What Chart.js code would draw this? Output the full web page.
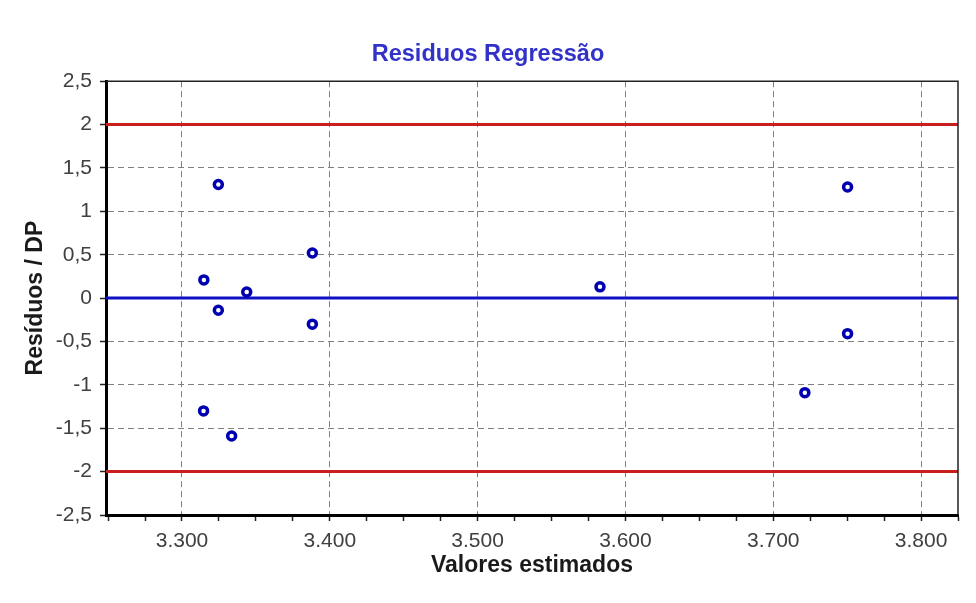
<!DOCTYPE html>
<html>
<head>
<meta charset="utf-8">
<script src="https://cdn.jsdelivr.net/npm/chart.js@4"></script>
<style>
  body { margin: 0; background: #fff; }
  #wrap { width: 976px; height: 603px; }
</style>
</head>
<body>
<div id="wrap"><canvas id="residChart" width="976" height="603"></canvas></div>
<script>
// Residuals vs estimated values
const estimados = [3324.6, 3314.8, 3324.6, 3343.8, 3388.2, 3388.2, 3314.6, 3333.6, 3582.8, 3750.3, 3750.3, 3721.4];
const residuos  = [1.31, 0.21, -0.14, 0.07, 0.52, -0.30, -1.30, -1.59, 0.13, 1.28, -0.41, -1.09];

const xRange = [3248.6, 3825];
const yRange = [-2.5, 2.5];
const limites = [2, -2];   // red lines
const zeroLine = 0;        // blue line

const font = '"Liberation Sans", Arial, sans-serif';

function fmtThousands(v) {
    const s = Math.round(v).toString();
    return s.length > 3 ? s.slice(0, -3) + '.' + s.slice(-3) : s;
}

const hline = (y, color) => ({
    type: 'line',
    data: [{ x: xRange[0], y: y }, { x: xRange[1], y: y }],
    borderColor: color,
    borderWidth: 3,
    pointRadius: 0,
    order: 2
});

// thin frame on top / right of the plot area
const framePlugin = {
    id: 'frame',
    afterDraw(chart) {
        const { ctx, chartArea: a } = chart;
        ctx.save();
        ctx.strokeStyle = '#222';
        ctx.lineWidth = 1.5;
        ctx.beginPath();
        ctx.moveTo(a.left, a.top);
        ctx.lineTo(a.right, a.top);
        ctx.lineTo(a.right, a.bottom);
        ctx.stroke();
        ctx.restore();
    }
};

const ctx = document.getElementById('residChart').getContext('2d');
new Chart(ctx, {
    type: 'scatter',
    data: {
        datasets: [
            hline(limites[0], '#c81e1e'),
            hline(limites[1], '#c81e1e'),
            hline(zeroLine, '#1010c4'),
            {
                type: 'scatter',
                data: estimados.map((x, i) => ({ x: x, y: residuos[i] })),
                pointStyle: 'circle',
                pointRadius: 4,
                pointBorderWidth: 3.5,
                borderColor: '#0000b0',
                backgroundColor: '#ffffff',
                order: 1
            }
        ]
    },
    options: {
        responsive: false,
        animation: false,
        layout: { padding: 0 },
        plugins: {
            legend: { display: false },
            tooltip: { enabled: false },
            title: {
                display: true,
                text: 'Residuos Regressão',
                color: '#3232c8',
                font: { family: font, size: 23.5, weight: 'bold' },
                padding: { top: 40, bottom: 13 }
            }
        },
        scales: {
            x: {
                type: 'linear',
                min: xRange[0],
                max: xRange[1],
                afterBuildTicks: (scale) => {
                    const t = [];
                    for (let v = 3250; v <= 3825; v += 25) t.push({ value: v });
                    scale.ticks = t;
                },
                afterFit: (scale) => { scale.height = 88; },
                ticks: {
                    autoSkip: false,
                    maxRotation: 0,
                    padding: 8,
                    color: '#404040',
                    font: { family: font, size: 21 },
                    callback: (v) => (v % 100 === 0 ? fmtThousands(v) : '')
                },
                grid: {
                    color: (c) => (c.tick && c.tick.value % 100 === 0 ? '#808080' : 'rgba(0,0,0,0)'),
                    lineWidth: 1,
                    tickColor: '#222',
                    tickLength: 6,
                    tickWidth: 1.5,
                    tickBorderDash: []
                },
                border: { display: true, color: '#000', width: 3, dash: [6, 4] },
                title: {
                    display: true,
                    text: 'Valores estimados',
                    color: '#1a1a1a',
                    font: { family: font, size: 23, weight: 'bold' },
                    padding: { top: 0, bottom: 24 }
                }
            },
            y: {
                min: yRange[0],
                max: yRange[1],
                afterFit: (scale) => { scale.width = 106; },
                ticks: {
                    stepSize: 0.5,
                    padding: 8,
                    color: '#404040',
                    font: { family: font, size: 21 },
                    callback: (v) => String(Math.round(v * 10) / 10).replace('.', ',')
                },
                grid: {
                    color: '#808080',
                    lineWidth: 1,
                    tickColor: '#222',
                    tickLength: 6,
                    tickWidth: 1.5,
                    tickBorderDash: []
                },
                border: { display: true, color: '#000', width: 3, dash: [6, 4] },
                title: {
                    display: true,
                    text: 'Resíduos / DP',
                    color: '#1a1a1a',
                    font: { family: font, size: 23, weight: 'bold' },
                    padding: { top: 22, bottom: 0 }
                }
            },
            // empty right-hand spacer so the title stays centred on the page
            yRight: {
                position: 'right',
                display: true,
                ticks: { display: false },
                grid: { display: false, drawTicks: false },
                border: { display: false },
                afterFit: (scale) => { scale.width = 18; }
            }
        }
    },
    plugins: [framePlugin]
});
</script>
</body>
</html>
